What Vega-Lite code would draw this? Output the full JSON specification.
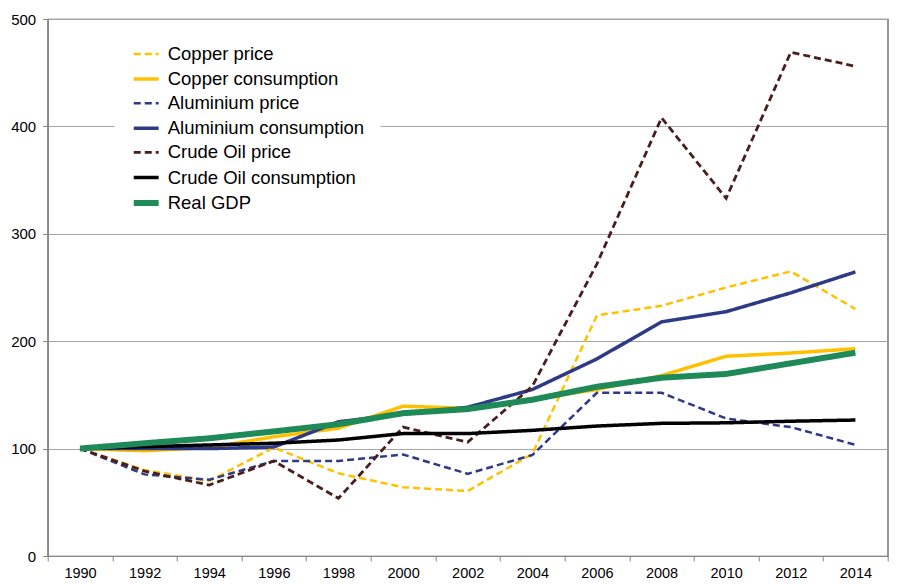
{
  "$schema": "https://vega.github.io/schema/vega-lite/v6.json",
  "width": 840,
  "height": 537,
  "autosize": "none",
  "padding": {"left": 47.7, "top": 19, "right": 9.3, "bottom": 29},
  "background": "white",
  "config": {
    "font": "Liberation Sans",
    "view": {"stroke": "#505050", "strokeWidth": 1.2},
    "axis": {"labelFont": "Liberation Sans", "labelColor": "#000000", "domainColor": "#868686", "tickColor": "#868686", "title": null}
  },
  "data": {
    "values": [
      {"year": "1990", "series": "Copper price", "value": 100},
      {"year": "1992", "series": "Copper price", "value": 80},
      {"year": "1994", "series": "Copper price", "value": 70},
      {"year": "1996", "series": "Copper price", "value": 101},
      {"year": "1998", "series": "Copper price", "value": 77},
      {"year": "2000", "series": "Copper price", "value": 64},
      {"year": "2002", "series": "Copper price", "value": 60.5},
      {"year": "2004", "series": "Copper price", "value": 95},
      {"year": "2006", "series": "Copper price", "value": 224},
      {"year": "2008", "series": "Copper price", "value": 233},
      {"year": "2010", "series": "Copper price", "value": 250},
      {"year": "2012", "series": "Copper price", "value": 265},
      {"year": "2014", "series": "Copper price", "value": 230},
      {"year": "1990", "series": "Copper consumption", "value": 100},
      {"year": "1992", "series": "Copper consumption", "value": 98},
      {"year": "1994", "series": "Copper consumption", "value": 101},
      {"year": "1996", "series": "Copper consumption", "value": 111},
      {"year": "1998", "series": "Copper consumption", "value": 119},
      {"year": "2000", "series": "Copper consumption", "value": 139.5},
      {"year": "2002", "series": "Copper consumption", "value": 137.5},
      {"year": "2004", "series": "Copper consumption", "value": 146},
      {"year": "2006", "series": "Copper consumption", "value": 155},
      {"year": "2008", "series": "Copper consumption", "value": 168},
      {"year": "2010", "series": "Copper consumption", "value": 186},
      {"year": "2012", "series": "Copper consumption", "value": 189},
      {"year": "2014", "series": "Copper consumption", "value": 193},
      {"year": "1990", "series": "Aluminium price", "value": 100},
      {"year": "1992", "series": "Aluminium price", "value": 76},
      {"year": "1994", "series": "Aluminium price", "value": 71},
      {"year": "1996", "series": "Aluminium price", "value": 88.5},
      {"year": "1998", "series": "Aluminium price", "value": 88.5},
      {"year": "2000", "series": "Aluminium price", "value": 94.5},
      {"year": "2002", "series": "Aluminium price", "value": 76.5},
      {"year": "2004", "series": "Aluminium price", "value": 94},
      {"year": "2006", "series": "Aluminium price", "value": 152},
      {"year": "2008", "series": "Aluminium price", "value": 152},
      {"year": "2010", "series": "Aluminium price", "value": 128},
      {"year": "2012", "series": "Aluminium price", "value": 120},
      {"year": "2014", "series": "Aluminium price", "value": 103.5},
      {"year": "1990", "series": "Aluminium consumption", "value": 100},
      {"year": "1992", "series": "Aluminium consumption", "value": 100},
      {"year": "1994", "series": "Aluminium consumption", "value": 100},
      {"year": "1996", "series": "Aluminium consumption", "value": 101.5},
      {"year": "1998", "series": "Aluminium consumption", "value": 125},
      {"year": "2000", "series": "Aluminium consumption", "value": 132},
      {"year": "2002", "series": "Aluminium consumption", "value": 138.5},
      {"year": "2004", "series": "Aluminium consumption", "value": 155},
      {"year": "2006", "series": "Aluminium consumption", "value": 183.5},
      {"year": "2008", "series": "Aluminium consumption", "value": 218},
      {"year": "2010", "series": "Aluminium consumption", "value": 227.5},
      {"year": "2012", "series": "Aluminium consumption", "value": 245},
      {"year": "2014", "series": "Aluminium consumption", "value": 264.5},
      {"year": "1990", "series": "Crude Oil price", "value": 100},
      {"year": "1992", "series": "Crude Oil price", "value": 79},
      {"year": "1994", "series": "Crude Oil price", "value": 66},
      {"year": "1996", "series": "Crude Oil price", "value": 88.5},
      {"year": "1998", "series": "Crude Oil price", "value": 53.7},
      {"year": "2000", "series": "Crude Oil price", "value": 120},
      {"year": "2002", "series": "Crude Oil price", "value": 106},
      {"year": "2004", "series": "Crude Oil price", "value": 158},
      {"year": "2006", "series": "Crude Oil price", "value": 272},
      {"year": "2008", "series": "Crude Oil price", "value": 408},
      {"year": "2010", "series": "Crude Oil price", "value": 333},
      {"year": "2012", "series": "Crude Oil price", "value": 469},
      {"year": "2014", "series": "Crude Oil price", "value": 456},
      {"year": "1990", "series": "Crude Oil consumption", "value": 100},
      {"year": "1992", "series": "Crude Oil consumption", "value": 101.8},
      {"year": "1994", "series": "Crude Oil consumption", "value": 103.4},
      {"year": "1996", "series": "Crude Oil consumption", "value": 105},
      {"year": "1998", "series": "Crude Oil consumption", "value": 108},
      {"year": "2000", "series": "Crude Oil consumption", "value": 114},
      {"year": "2002", "series": "Crude Oil consumption", "value": 114},
      {"year": "2004", "series": "Crude Oil consumption", "value": 117},
      {"year": "2006", "series": "Crude Oil consumption", "value": 121},
      {"year": "2008", "series": "Crude Oil consumption", "value": 123.5},
      {"year": "2010", "series": "Crude Oil consumption", "value": 124},
      {"year": "2012", "series": "Crude Oil consumption", "value": 125.5},
      {"year": "2014", "series": "Crude Oil consumption", "value": 126.6},
      {"year": "1990", "series": "Real GDP", "value": 100},
      {"year": "1992", "series": "Real GDP", "value": 105},
      {"year": "1994", "series": "Real GDP", "value": 109.6},
      {"year": "1996", "series": "Real GDP", "value": 116},
      {"year": "1998", "series": "Real GDP", "value": 122.7},
      {"year": "2000", "series": "Real GDP", "value": 133},
      {"year": "2002", "series": "Real GDP", "value": 136.8},
      {"year": "2004", "series": "Real GDP", "value": 145.5},
      {"year": "2006", "series": "Real GDP", "value": 157.6},
      {"year": "2008", "series": "Real GDP", "value": 166},
      {"year": "2010", "series": "Real GDP", "value": 169.5},
      {"year": "2012", "series": "Real GDP", "value": 179.4},
      {"year": "2014", "series": "Real GDP", "value": 189.3}
    ]
  },
  "mark": {"type": "line", "strokeCap": "butt", "strokeJoin": "miter"},
  "encoding": {
    "x": {
      "field": "year",
      "type": "ordinal",
      "bandPosition": 0.5,
      "scale": {"type": "band", "paddingInner": 0, "paddingOuter": 0},
      "axis": {"labelAngle": 0, "tickBand": "extent", "tickSize": 5, "labelFontSize": 14.5, "labelPadding": 5, "grid": false, "domainWidth": 1.2}
    },
    "y": {
      "field": "value",
      "type": "quantitative",
      "scale": {"domain": [0, 500], "nice": false},
      "axis": {"values": [0, 100, 200, 300, 400, 500], "tickSize": 5, "labelFontSize": 15, "labelPadding": 7, "grid": true, "gridColor": "#A6A6A6", "gridWidth": 1.2, "domainWidth": 1.2}
    },
    "color": {
      "field": "series",
      "type": "nominal",
      "scale": {
        "domain": ["Copper price", "Copper consumption", "Aluminium price", "Aluminium consumption", "Crude Oil price", "Crude Oil consumption", "Real GDP"],
        "range": ["#FFC000", "#FFC000", "#2E3A86", "#2E3A86", "#4A1E1E", "#000000", "#1E8A58"]
      },
      "legend": {
        "title": null,
        "orient": "none",
        "legendX": 67,
        "legendY": 5,
        "fillColor": "white",
        "padding": 16,
        "symbolType": "stroke",
        "symbolSize": 620,
        "labelFontSize": 18.5,
        "labelFont": "Liberation Sans",
        "labelColor": "#000000",
        "labelOffset": 6,
        "rowPadding": 0.6,
        "labelLimit": 400
      }
    },
    "strokeDash": {
      "field": "series",
      "type": "nominal",
      "scale": {
        "domain": ["Copper price", "Copper consumption", "Aluminium price", "Aluminium consumption", "Crude Oil price", "Crude Oil consumption", "Real GDP"],
        "range": [[7, 4], [1, 0], [7, 4], [1, 0], [7, 4], [1, 0], [1, 0]]
      },
      "legend": {"title": null}
    },
    "strokeWidth": {
      "field": "series",
      "type": "ordinal",
      "scale": {
        "type": "ordinal",
        "domain": ["Copper price", "Copper consumption", "Aluminium price", "Aluminium consumption", "Crude Oil price", "Crude Oil consumption", "Real GDP"],
        "range": [2.5, 3.5, 2.5, 3.5, 2.8, 3.5, 6]
      },
      "legend": {"title": null}
    }
  }
}
